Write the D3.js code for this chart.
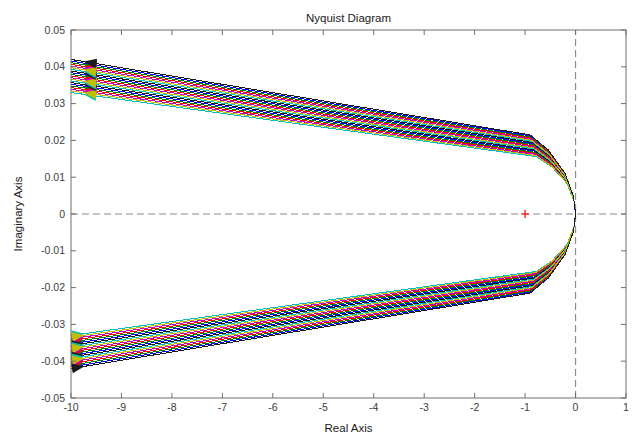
<!DOCTYPE html>
<html><head><meta charset="utf-8">
<script src="https://cdn.jsdelivr.net/npm/d3@7"></script>
<style>body{margin:0;background:#fff}svg{display:block;font-family:"Liberation Sans",Arial,sans-serif}</style>
</head><body><div id="chart"></div>
<script>
// ---- Data (upper branch, curves ordered outer -> inner by position; lower branch is the conjugate) ----
const startRe = -10;
const startIm = [0.04200,0.04155,0.04110,0.04065,0.04020,0.03975,0.03930,0.03885,0.03840,0.03795,0.03750,0.03705,0.03660,0.03615,0.03570,0.03525,0.03480,0.03435,0.03390,0.03345,0.03300];
const kinkRe  = [-0.900,-0.894,-0.888,-0.882,-0.876,-0.870,-0.864,-0.858,-0.852,-0.846,-0.840,-0.834,-0.828,-0.822,-0.816,-0.810,-0.804,-0.798,-0.792,-0.786,-0.780];
const kinkIm  = [0.02150,0.02121,0.02091,0.02062,0.02032,0.02003,0.01973,0.01944,0.01914,0.01885,0.01855,0.01826,0.01796,0.01767,0.01737,0.01708,0.01678,0.01649,0.01619,0.01590,0.01560];
const bendARe = [-0.540,-0.537,-0.533,-0.530,-0.526,-0.523,-0.519,-0.516,-0.512,-0.509,-0.505,-0.502,-0.498,-0.495,-0.491,-0.488,-0.484,-0.481,-0.477,-0.474,-0.470];
const bendAIm = [0.01740,0.01717,0.01694,0.01671,0.01648,0.01625,0.01602,0.01579,0.01556,0.01533,0.01511,0.01488,0.01465,0.01442,0.01419,0.01396,0.01373,0.01350,0.01327,0.01304,0.01281];
const bendBRe = [-0.210,-0.208,-0.206,-0.204,-0.202,-0.200,-0.198,-0.196,-0.194,-0.192,-0.190,-0.188,-0.186,-0.184,-0.182,-0.180,-0.178,-0.176,-0.174,-0.172,-0.170];
const bendBIm = [0.01110,0.01096,0.01082,0.01068,0.01054,0.01040,0.01026,0.01012,0.00998,0.00984,0.00970,0.00956,0.00942,0.00928,0.00914,0.00900,0.00886,0.00872,0.00858,0.00844,0.00830];
const bendCRe = [-0.0400,-0.0395,-0.0390,-0.0385,-0.0380,-0.0375,-0.0370,-0.0365,-0.0360,-0.0355,-0.0350,-0.0345,-0.0340,-0.0335,-0.0330,-0.0325,-0.0320,-0.0315,-0.0310,-0.0305,-0.0300];
const bendCIm = [0.00470,0.00464,0.00458,0.00452,0.00446,0.00440,0.00434,0.00428,0.00422,0.00416,0.00410,0.00404,0.00398,0.00392,0.00386,0.00380,0.00374,0.00368,0.00362,0.00356,0.00350];
// order in which the curves were plotted (index into the arrays above)
const plotOrder = [15,16,17,20,18,19,14,8,9,10,13,11,12,7,1,2,3,6,4,5,0];
const criticalPoint = [-1, 0];
const xTicks = [-10,-9,-8,-7,-6,-5,-4,-3,-2,-1,0,1];
const xTickLabels = ["-10","-9","-8","-7","-6","-5","-4","-3","-2","-1","0","1"];
const yTicks = [0.05,0.04,0.03,0.02,0.01,0,-0.01,-0.02,-0.03,-0.04,-0.05];
const yTickLabels = ["0.05","0.04","0.03","0.02","0.01","0","-0.01","-0.02","-0.03","-0.04","-0.05"];
const upperArrowRe = [-9.75, -9.50];  // tip, base
const lowerArrowRe = [-9.74, -9.98];  // tip, base
const colorOrder = ["#0000ff","#008000","#ff0000","#00bfbf","#bf00bf","#bfbf00","#1a1a1a"];

// ---- Layout ----
const W = 637, H = 434;
const m = {left:71, right:626, top:30, bottom:398};
const x = d3.scaleLinear().domain([-10,1]).range([m.left,m.right]);
const y = d3.scaleLinear().domain([-0.05,0.05]).range([m.bottom,m.top]);

const svg = d3.select("#chart").append("svg").attr("width",W).attr("height",H);
svg.append("defs").append("clipPath").attr("id","clip")
  .append("rect").attr("x",m.left).attr("y",m.top).attr("width",m.right-m.left).attr("height",m.bottom-m.top);

const plot = svg.append("g").attr("clip-path","url(#clip)");
plot.append("line").attr("x1",x(-10)).attr("x2",x(1)).attr("y1",y(0)).attr("y2",y(0))
  .attr("stroke","#8c8c8c").attr("stroke-dasharray","7,4").attr("stroke-width",1.2);
plot.append("line").attr("x1",x(0)).attr("x2",x(0)).attr("y1",y(-0.05)).attr("y2",y(0.05))
  .attr("stroke","#8c8c8c").attr("stroke-dasharray","7,4").attr("stroke-width",1.2);

const line = d3.line().x(d=>x(d[0])).y(d=>y(d[1]));
function onSeg(re, i, sign){
  const t = (re - startRe)/(kinkRe[i]-startRe);
  return [re, sign*(startIm[i] + t*(kinkIm[i]-startIm[i]))];
}
function tri(tip, base, hw){
  const px=x(tip[0]), py=y(tip[1]), bx=x(base[0]), by=y(base[1]);
  const dx=px-bx, dy=py-by, L=Math.hypot(dx,dy), nx=-dy/L*hw, ny=dx/L*hw;
  return `M${px},${py}L${bx+nx},${by+ny}L${bx-nx},${by-ny}Z`;
}
plotOrder.forEach((k, j) => {
  const col = colorOrder[j % colorOrder.length];
  const up = [[startRe,startIm[k]],[kinkRe[k],kinkIm[k]],[bendARe[k],bendAIm[k]],[bendBRe[k],bendBIm[k]],[bendCRe[k],bendCIm[k]],[0,0]];
  const low = up.slice(0,-1).reverse().map(p=>[p[0],-p[1]]);
  plot.append("path").attr("d",line(up.concat(low))).attr("fill","none").attr("stroke",col)
    .attr("stroke-width",1).attr("shape-rendering","crispEdges");
  plot.append("path").attr("d",tri(onSeg(upperArrowRe[0],k,1),onSeg(upperArrowRe[1],k,1),5)).attr("fill",col);
  plot.append("path").attr("d",tri(onSeg(lowerArrowRe[0],k,-1),onSeg(lowerArrowRe[1],k,-1),5)).attr("fill",col);
});

const cx = x(criticalPoint[0]), cy = y(criticalPoint[1]);
svg.append("path").attr("d",`M${cx-4},${cy}H${cx+4}M${cx},${cy-4}V${cy+4}`).attr("stroke","#ff0000").attr("stroke-width",1.2);

const ax = svg.append("g").attr("stroke","#6e6e6e").attr("stroke-width",1).attr("fill","none");
ax.append("rect").attr("x",m.left).attr("y",m.top).attr("width",m.right-m.left).attr("height",m.bottom-m.top);
xTicks.forEach(v=>{
  ax.append("line").attr("x1",x(v)).attr("x2",x(v)).attr("y1",m.bottom).attr("y2",m.bottom-5);
  ax.append("line").attr("x1",x(v)).attr("x2",x(v)).attr("y1",m.top).attr("y2",m.top+5);
});
yTicks.forEach(v=>{
  ax.append("line").attr("x1",m.left).attr("x2",m.left+5).attr("y1",y(v)).attr("y2",y(v));
  ax.append("line").attr("x1",m.right).attr("x2",m.right-5).attr("y1",y(v)).attr("y2",y(v));
});
const txt = svg.append("g").attr("fill","#3c3c3c").attr("font-size","10.5px");
xTicks.forEach((v,i)=>txt.append("text").attr("x",x(v)).attr("y",m.bottom+13).attr("text-anchor","middle").text(xTickLabels[i]));
yTicks.forEach((v,i)=>txt.append("text").attr("x",m.left-6).attr("y",y(v)+3.5).attr("text-anchor","end").text(yTickLabels[i]));

svg.append("text").attr("x",(m.left+m.right)/2).attr("y",22).attr("text-anchor","middle")
  .attr("font-size","11.5px").attr("fill","#1a1a1a").text("Nyquist Diagram");
svg.append("text").attr("x",(m.left+m.right)/2).attr("y",432).attr("text-anchor","middle")
  .attr("font-size","11.5px").attr("fill","#1a1a1a").text("Real Axis");
svg.append("text").attr("transform",`translate(22,${(m.top+m.bottom)/2}) rotate(-90)`).attr("text-anchor","middle")
  .attr("font-size","11.5px").attr("fill","#1a1a1a").text("Imaginary Axis");
</script></body></html>
